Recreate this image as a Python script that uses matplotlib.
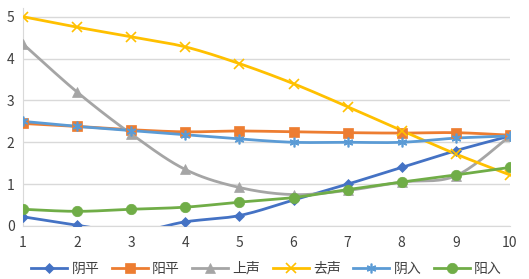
import numpy as np
import matplotlib
matplotlib.use('Agg')
import matplotlib.pyplot as plt

plt.rcParams['font.family'] = ['Noto Sans CJK SC', 'DejaVu Sans']

# dati
x = [1, 2, 3, 4, 5, 6, 7, 8, 9, 10]
yinping = [0.22, 0.02, -0.15, 0.1, 0.25, 0.62, 1.0, 1.4, 1.8, 2.15]
yangping = [2.45, 2.38, 2.3, 2.25, 2.27, 2.25, 2.23, 2.22, 2.23, 2.17]
shangsheng = [4.35, 3.2, 2.2, 1.35, 0.92, 0.75, 0.85, 1.05, 1.2, 2.15]
qusheng = [5.0, 4.75, 4.52, 4.28, 3.88, 3.4, 2.85, 2.28, 1.72, 1.22]
yinru = [2.5, 2.38, 2.28, 2.18, 2.08, 2.0, 2.0, 2.0, 2.1, 2.15]
yangru = [0.4, 0.35, 0.4, 0.45, 0.57, 0.68, 0.87, 1.05, 1.22, 1.4]

labels = ['阴平', '阳平', '上声', '去声', '阴入', '阳入']
series = [yinping, yangping, shangsheng, qusheng, yinru, yangru]
colors = ['#4472C4', '#ED7D31', '#A5A5A5', '#FFC000', '#5B9BD5', '#70AD47']
markers = ['D', 's', '^', 'x', (6, 2, 0), 'o']
msizes = [5, 7, 7, 7, 7, 7.5]


def smooth(xs, ys, n=20):
    # curva di Bezier tipo Catmull-Rom (linee smussate come in Excel)
    xs = np.asarray(xs, float)
    ys = np.asarray(ys, float)
    px, py = [], []
    for i in range(len(xs) - 1):
        x0, y0 = (xs[i - 1], ys[i - 1]) if i > 0 else (xs[i], ys[i])
        x1, y1 = xs[i], ys[i]
        x2, y2 = xs[i + 1], ys[i + 1]
        x3, y3 = (xs[i + 2], ys[i + 2]) if i + 2 < len(xs) else (x2, y2)
        c1x, c1y = x1 + (x2 - x0) / 6, y1 + (y2 - y0) / 6
        c2x, c2y = x2 - (x3 - x1) / 6, y2 - (y3 - y1) / 6
        t = np.linspace(0, 1, n)
        bx = (1-t)**3*x1 + 3*(1-t)**2*t*c1x + 3*(1-t)*t**2*c2x + t**3*x2
        by = (1-t)**3*y1 + 3*(1-t)**2*t*c1y + 3*(1-t)*t**2*c2y + t**3*y2
        px.extend(bx)
        py.extend(by)
    return px, py


fig = plt.figure(figsize=(5.29, 2.79), dpi=100)
ax = fig.add_axes([0.0435, 0.19, 0.9205, 0.78])

for s, lab, c, m, ms in zip(series, labels, colors, markers, msizes):
    mew = 1.2 if m in ('x', (6, 2, 0)) else 0.5
    sx, sy = smooth(x, s)
    ax.plot(sx, sy, color=c, lw=2, zorder=2)
    ax.plot(x, s, linestyle='none', marker=m, color=c, markersize=ms,
            markeredgewidth=mew, zorder=3)
    ax.plot([], [], color=c, lw=2, marker=m, markersize=ms, label=lab,
            markeredgewidth=mew)

ax.set_xlim(1, 10)
ax.set_ylim(0, 5.2)
ax.set_xticks(x)
ax.set_yticks([0, 1, 2, 3, 4, 5])
ax.grid(True, axis='y', color='#D9D9D9', lw=1)
ax.set_axisbelow(True)
for sp in ['top', 'right']:
    ax.spines[sp].set_visible(False)
ax.spines['left'].set_color('#D9D9D9')
ax.spines['bottom'].set_color('#D9D9D9')
ax.tick_params(length=0, labelsize=10, colors='#404040')
ax.tick_params(axis='x', pad=7)
ax.tick_params(axis='y', pad=6)

ax.legend(loc='center', bbox_to_anchor=(0.5, -0.195), ncol=6, frameon=False,
          fontsize=10, handlelength=2.6, columnspacing=0.9, handletextpad=0.3,
          labelcolor='#404040')

fig.savefig('out.png', dpi=100)
